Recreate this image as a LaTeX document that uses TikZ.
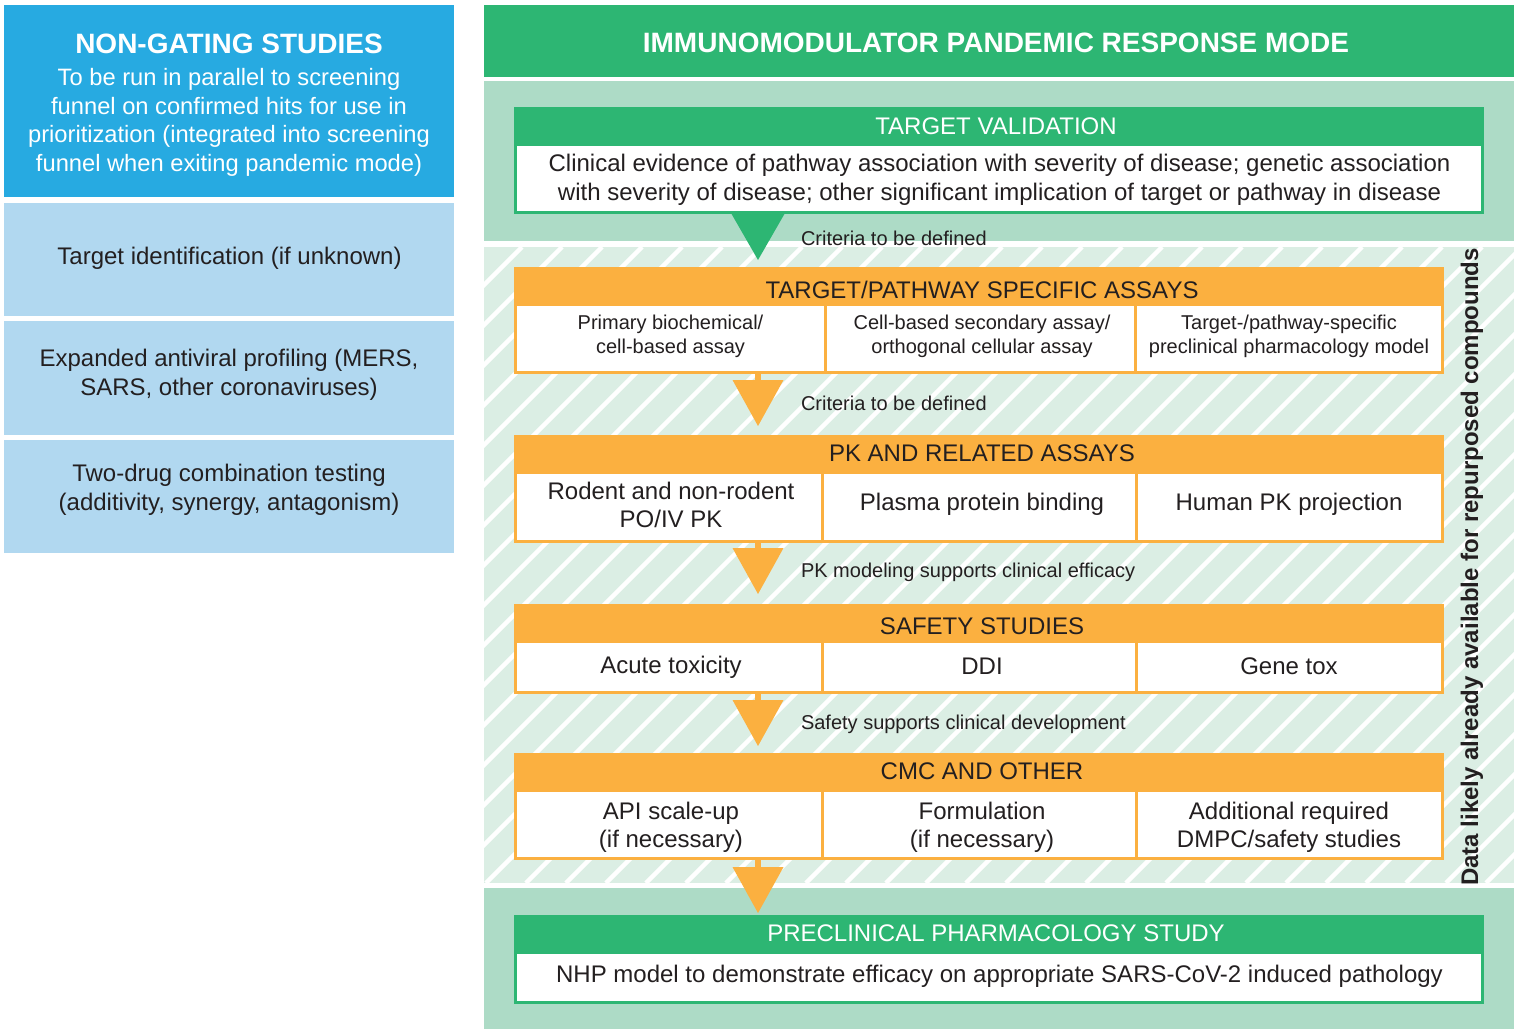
\documentclass[tikz,border=0pt]{standalone}
\usepackage{fontspec}
\setmainfont{Liberation Sans}
\usetikzlibrary{arrows.meta,calc}
\definecolor{cblue}{HTML}{27AAE1}
\definecolor{clblue}{HTML}{B1D8F0}
\definecolor{cgreen}{HTML}{2DB673}
\definecolor{clgreen}{HTML}{ADDBC6}
\definecolor{chatch}{HTML}{DBEEE4}
\definecolor{corange}{HTML}{FBB040}
\definecolor{ctext}{HTML}{231F20}
\newcommand\stM{\rule[-3pt]{0pt}{23.2pt}}
\newcommand\stS{\rule[-3pt]{0pt}{20.3pt}}
\newcommand\stL{\rule[-3pt]{0pt}{23pt}}
\newcommand\stT{\rule[-3pt]{0pt}{26pt}}
\begin{document}
\begin{tikzpicture}[x=1pt,y=-1pt,
  every node/.style={inner sep=0pt, outer sep=0pt, text=ctext},
  box/.style={anchor=north west},
  txt/.style={align=center},
  fsmall/.style={font=\fontsize{20}{24.5}\selectfont},
  fmid/.style={font=\fontsize{24}{28.5}\selectfont},
  fleft/.style={font=\fontsize{23.7}{28.7}\selectfont},
  fbig/.style={font=\bfseries\fontsize{28}{32}\selectfont},
  lbox/.style={box, fill=clblue, minimum width=450},
  hdrG/.style={box, fill=cgreen},
  bodyG/.style={box, fill=white, draw=cgreen, line width=3pt},
  hdrO/.style={box, fill=corange},
  cellO/.style={box, fill=white, draw=corange, line width=3pt},
  lbl/.style={anchor=west, fsmall},
  arrG/.style={draw=cgreen, line width=0.1pt, -{Triangle[width=54pt,length=47pt,line width=0pt]}},
  arrO/.style={draw=corange, line width=6pt, -{Triangle[width=51pt,length=46pt,line width=0pt]}}
]
\useasboundingbox (0,0) rectangle (1517,1029);

% ---------------- left column ----------------
\node[box, fill=cblue, minimum width=450, minimum height=192] (ng) at (4,5) {};
\node[txt, fbig, text=white] (ngt) at (229,43) {NON-GATING STUDIES\stT};
\node[txt, fleft, text=white] (ngb) at (229,121)
  {To be run in parallel to screening\stL\\funnel on confirmed hits for use in\stL\\prioritization (integrated into screening\stL\\funnel when exiting pandemic mode)\stL};
\node[lbox, minimum height=113] (ti) at (4,203) {};
\node[lbox, minimum height=114] (ea) at (4,321) {};
\node[lbox, minimum height=113] (tc) at (4,440) {};
\node[txt, fmid] (tit) at (229.5,257) {Target identification (if unknown)\stM};
\node[txt, fmid] (eat) at (229,373.5) {Expanded antiviral profiling (MERS,\stM\\SARS, other coronaviruses)\stM};
\node[txt, fmid] (tct) at (229,488.5) {Two-drug combination testing\stM\\(additivity, synergy, antagonism)\stM};

% ---------------- right column backgrounds ----------------
\node[box, fill=cgreen, minimum width=1030, minimum height=72] (mode) at (484,5) {};
\node[txt, fbig, text=white] (modet) at (996,42) {IMMUNOMODULATOR PANDEMIC RESPONSE MODE\stT};
\fill[clgreen] (484,81) rectangle (1514,241);
\fill[chatch] (484,247) rectangle (1514,883);
\begin{scope}
  \clip (484,247) rectangle (1514,883);
  \foreach \k in {18,...,60}{
    \pgfmathsetmacro\cc{9+40*\k}
    \draw[white, line width=4.5pt] ({\cc-247},247) -- ({\cc-883},883);
  }
\end{scope}
\fill[clgreen] (484,888) rectangle (1514,1029);

\coordinate (ax) at (758,0);

% ---------------- target validation ----------------
\node[hdrG, minimum width=970, minimum height=37] (tvh) at (514,107) {};
\node[bodyG, minimum width=967, minimum height=68] (tvb) at (515.5,144.5) {};
\node[txt, fmid, text=white] (tvht) at (996,126) {TARGET VALIDATION\stM};
\node[txt, fmid] (tvbt) at (999.5,178.5)
  {Clinical evidence of pathway association with severity of disease; genetic association\stM\\with severity of disease; other significant implication of target or pathway in disease\stM};

% ---------------- target/pathway specific assays ----------------
\node[hdrO, minimum width=930, minimum height=38] (tph) at (514,267) {};
\node[cellO, minimum width=310, minimum height=68] (tp1) at (515.5,304.5) {};
\node[cellO, minimum width=310, minimum height=68] (tp2) at (825.5,304.5) {};
\node[cellO, minimum width=307, minimum height=68] (tp3) at (1135.5,304.5) {};
\node[txt, fmid] (tpht) at (982,290) {TARGET/PATHWAY SPECIFIC ASSAYS\stM};
\node[txt, fsmall] (tp1t) at (670.5,335) {Primary biochemical/\stS\\cell-based assay\stS};
\node[txt, fsmall] (tp2t) at (982,335) {Cell-based secondary assay/\stS\\orthogonal cellular assay\stS};
\node[txt, fsmall] (tp3t) at (1289,335) {Target-/pathway-specific\stS\\preclinical pharmacology model\stS};

% ---------------- PK ----------------
\node[hdrO, minimum width=930, minimum height=37] (pkh) at (514,435) {};
\node[cellO, minimum width=307, minimum height=69] (pk1) at (515.5,472) {};
\node[cellO, minimum width=314, minimum height=69] (pk2) at (822.5,472) {};
\node[cellO, minimum width=306, minimum height=69] (pk3) at (1136.5,472) {};
\node[txt, fmid] (pkht) at (982,453) {PK AND RELATED ASSAYS\stM};
\node[txt, fmid] (pk1t) at (671,505) {Rodent and non-rodent\stM\\PO/IV PK\stM};
\node[txt, fmid] (pk2t) at (982,503) {Plasma protein binding\stM};
\node[txt, fmid] (pk3t) at (1289,503) {Human PK projection\stM};

% ---------------- safety ----------------
\node[hdrO, minimum width=930, minimum height=37] (sfh) at (514,604) {};
\node[cellO, minimum width=307, minimum height=51] (sf1) at (515.5,641.5) {};
\node[cellO, minimum width=314, minimum height=51] (sf2) at (822.5,641.5) {};
\node[cellO, minimum width=306, minimum height=51] (sf3) at (1136.5,641.5) {};
\node[txt, fmid] (sfht) at (982,626) {SAFETY STUDIES\stM};
\node[txt, fmid] (sf1t) at (671,666) {Acute toxicity\stM};
\node[txt, fmid] (sf2t) at (982,666) {DDI\stM};
\node[txt, fmid] (sf3t) at (1289,666) {Gene tox\stM};

% ---------------- CMC ----------------
\node[hdrO, minimum width=930, minimum height=38] (cmh) at (514,753) {};
\node[cellO, minimum width=307, minimum height=68] (cm1) at (515.5,790.5) {};
\node[cellO, minimum width=314, minimum height=68] (cm2) at (822.5,790.5) {};
\node[cellO, minimum width=306, minimum height=68] (cm3) at (1136.5,790.5) {};
\node[txt, fmid] (cmht) at (982,771) {CMC AND OTHER\stM};
\node[txt, fmid] (cm1t) at (671,826) {API scale-up\stM\\(if necessary)\stM};
\node[txt, fmid] (cm2t) at (982,826) {Formulation\stM\\(if necessary)\stM};
\node[txt, fmid] (cm3t) at (1289,826) {Additional required\stM\\DMPC/safety studies\stM};

% ---------------- preclinical ----------------
\node[hdrG, minimum width=970, minimum height=37] (pch) at (514,915) {};
\node[bodyG, minimum width=967, minimum height=50] (pcb) at (515.5,952.5) {};
\node[txt, fmid, text=white] (pcht) at (996,933) {PRECLINICAL PHARMACOLOGY STUDY\stM};
\node[txt, fmid] (pcbt) at (999.5,975) {NHP model to demonstrate efficacy on appropriate SARS-CoV-2 induced pathology\stM};

% ---------------- arrows ----------------
\draw[arrG, shorten >=7pt] (tvb.south -| ax) -- (tph.north -| ax);
\draw[arrO, shorten >=9pt] (tp1.south -| ax) -- (pkh.north -| ax);
\draw[arrO, shorten >=10pt] (pk1.south -| ax) -- (sfh.north -| ax);
\draw[arrO, shorten >=7pt] (sf1.south -| ax) -- (cmh.north -| ax);
\draw[arrO, shorten >=2pt] (cm1.south -| ax) -- (pch.north -| ax);

% ---------------- labels ----------------
\node[lbl] (l1) at (801,238) {Criteria to be defined\stS};
\node[lbl] (l2) at (801,403) {Criteria to be defined\stS};
\node[lbl] (l3) at (801,571) {PK modeling supports clinical efficacy\stS};
\node[lbl] (l4) at (801,723) {Safety supports clinical development\stS};

\node[rotate=90, font=\bfseries\fontsize{24}{28}\selectfont] (vt) at (1472,567)
  {Data likely already available for repurposed compounds};
\end{tikzpicture}
\end{document}
